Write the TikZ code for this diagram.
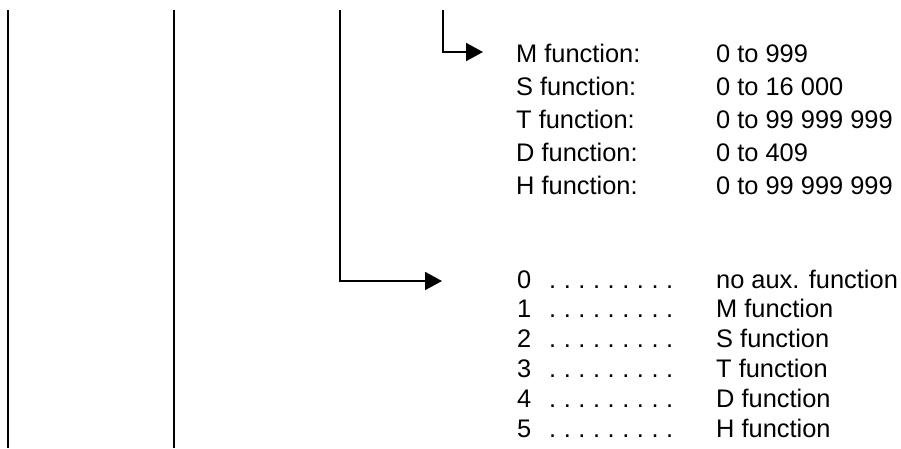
\documentclass[tikz,border=0pt]{standalone}
\usepackage{fontspec}
\setmainfont{Liberation Sans}
\usetikzlibrary{arrows.meta}
\begin{document}
\begin{tikzpicture}[x=1pt,y=-1pt,
  rule/.style={line width=1.8pt},
  pointer/.style={line width=1.8pt,-{Triangle[length=17pt,width=18pt]}},
  txt/.style={anchor=base west,inner sep=0pt,font=\fontsize{25.4}{31}\selectfont}]
\useasboundingbox (0,0) rectangle (901,448);
% vertical rules
\coordinate (a1) at (8,10);   \coordinate (a2) at (8,448);
\coordinate (b1) at (174,10); \coordinate (b2) at (174,448);
\coordinate (c1) at (340,10); \coordinate (c2) at (340,281); \coordinate (c3) at (442,281);
\coordinate (d1) at (443,10); \coordinate (d2) at (443,52);  \coordinate (d3) at (483,52);
\draw[rule] (a1) -- (a2);
\draw[rule] (b1) -- (b2);
\draw[pointer] (c1) -- (c2) -- (c3);
\draw[pointer] (d1) -- (d2) -- (d3);
% top list
\foreach \n/\lab/\val [count=\i from 0] in {m/M function:/0 to 999,s/S function:/0 to 16 000,t/T function:/0 to 99 999 999,d/D function:/0 to 409,h/H function:/0 to 99 999 999}{
  \node[txt] (lab\n) at (516,62+33*\i) {\lab};
  \node[txt] (val\n) at (716,62+33*\i) {\val};
}
% bottom list
\foreach \dig/\desc [count=\i from 0] in {0/no aux. function,1/M function,2/S function,3/T function,4/D function,5/H function}{
  \node[txt] (dig\dig) at (517,288+29.8*\i) {\dig};
  \node[txt] (dots\dig) at (549,288+29.8*\i) {\hbox to 124pt{.\hfill.\hfill.\hfill.\hfill.\hfill.\hfill.\hfill.\hfill.}};
  \node[txt] (desc\dig) at (716,288+29.8*\i) {\desc};
}
\end{tikzpicture}
\end{document}
